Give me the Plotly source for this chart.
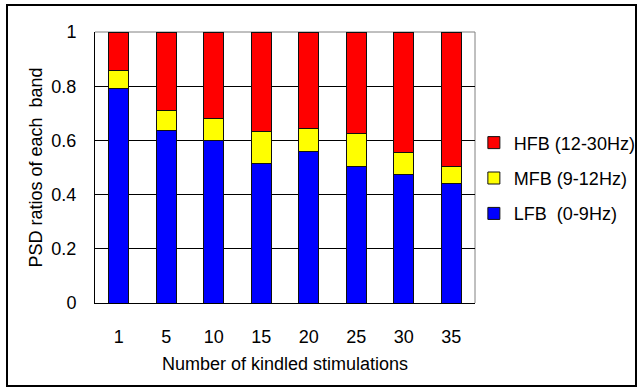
import plotly.graph_objects as go

categories = ["1", "5", "10", "15", "20", "25", "30", "35"]
lfb = [0.792, 0.636, 0.599, 0.515, 0.560, 0.505, 0.475, 0.442]
mfb = [0.065, 0.075, 0.081, 0.119, 0.084, 0.120, 0.082, 0.063]
hfb = [round(1 - a - b, 3) for a, b in zip(lfb, mfb)]

names = ["LFB  (0-9Hz)", "MFB (9-12Hz)", "HFB (12-30Hz)"]
colors = ["#0000FF", "#FFFF00", "#FF0000"]
ranks = [3, 2, 1]
series = [lfb, mfb, hfb]

font = "Liberation Sans, Arial, sans-serif"

fig = go.Figure()
for i, (nm, col, vals) in enumerate(zip(names, colors, series)):
    fig.add_trace(go.Bar(
        x=categories, y=vals, name=nm.replace("  ", "\u00a0 "),
        legendgroup=str(i), legendrank=ranks[i],
        marker=dict(color=col, line=dict(color="#101010", width=1)),
    ))

fig.update_layout(
    width=640, height=390, autosize=False,
    barmode="stack", bargap=0.58,
    margin=dict(l=95, r=165, t=32, b=87, autoexpand=False),
    paper_bgcolor="white", plot_bgcolor="white",
    font=dict(family=font, size=18, color="black"),
    showlegend=True,
    legend=dict(
        x=0.997, y=0.659, xanchor="left", yanchor="top",
        traceorder="grouped", tracegroupgap=9,
        font=dict(size=18, family=font, color="black"),
        itemwidth=30, bgcolor="rgba(0,0,0,0)",
    ),
    xaxis=dict(
        title=dict(text="Number of kindled stimulations", font=dict(size=18), standoff=11),
        showline=True, linecolor="black", linewidth=1,
        ticks="", ticklabelstandoff=17, showgrid=False,
        automargin=False,
    ),
    yaxis=dict(
        title=dict(text="PSD ratios of each\u00a0 band", font=dict(size=18), standoff=4),
        range=[0, 1], dtick=0.2,
        showline=True, linecolor="black", linewidth=1,
        showgrid=True, gridcolor="black", gridwidth=1,
        ticks="", ticklabelstandoff=14, zeroline=False,
        automargin=False,
    ),
)

# plot area border top/right (gray) and outer frame
fig.add_shape(type="line", xref="paper", yref="paper", x0=0, x1=1, y0=1, y1=1,
              line=dict(color="#808080", width=1), layer="between")
fig.add_shape(type="line", xref="paper", yref="paper", x0=1, x1=1, y0=0, y1=1,
              line=dict(color="#808080", width=1), layer="between")
fig.add_shape(type="rect", xref="paper", yref="paper",
              x0=(7 - 95) / 380, x1=(636 - 95) / 380,
              y0=(303 - 386) / 271, y1=(303 - 5) / 271,
              line=dict(color="black", width=2), layer="above")

fig.write_html(
    "out.html",
    config={"responsive": False, "displayModeBar": False},
    post_script="document.body.style.margin='0px';document.body.style.overflow='hidden';",
)
